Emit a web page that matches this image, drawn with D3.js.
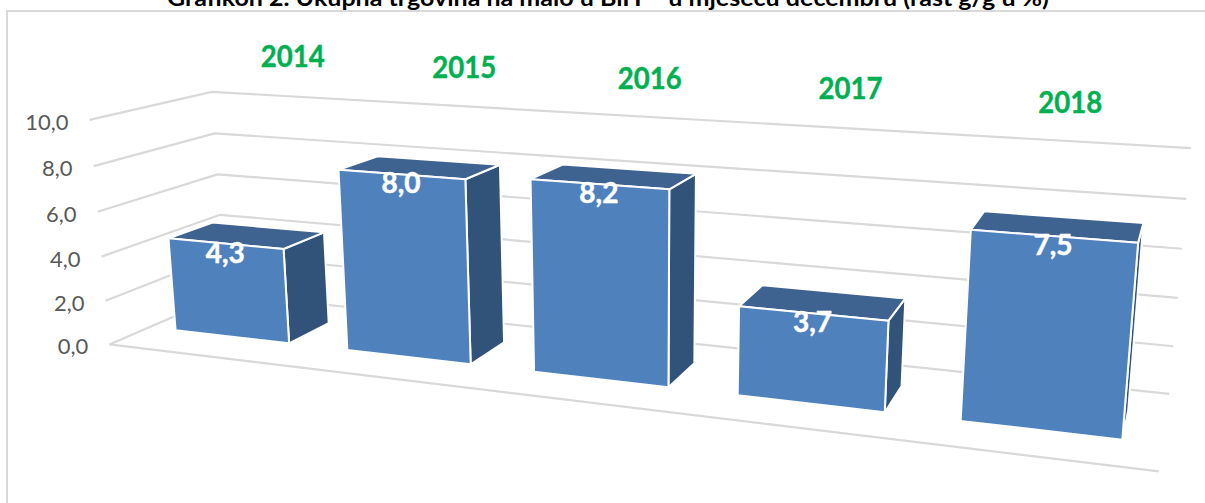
<!DOCTYPE html>
<html lang="bs">
<head>
    <meta charset="UTF-8">
    <title>Grafikon 2</title>
    <script src="https://d3js.org/d3.v7.min.js"></script>
    <style>
        html, body { margin: 0; background: #fff; overflow: hidden; }
        svg { display: block; }
        text { font-family: Lato, "Open Sans", sans-serif; }
    </style>
</head>
<body>
<script>
    const width = 1205
    const height = 503

    const years = ['2014', '2015', '2016', '2017', '2018']
    const values = [4.3, 8.0, 8.2, 3.7, 7.5]
    const yTicks = [0, 2, 4, 6, 8, 10]
    const title = 'Grafikon 2. Ukupna trgovina na malo u BiH – u mjesecu decembru (rast g/g u %)'

    const comma = d => d3.format('.1f')(d).replace('.', ',')

    // perspective camera, unit cube -> screen (x along years, y up, z into the wall)
    const cam = [
        [811.778225, -23.05977, 142.100387, 109.351139],
        [30.2855, -228.85887, -16.572999, 344.459286],
        [-0.205135, -0.03583, 0.114509, 1]
    ]
    function project(x, y, z) {
        const r = cam.map(c => c[0] * x + c[1] * y + c[2] * z + c[3])
        return [r[0] / r[2], r[1] / r[2]]
    }

    const xScale = d3.scaleBand().domain(years).range([0, 1]).paddingInner(0.33).paddingOuter(0.16)
    const yScale = d3.scaleLinear().domain([0, 10]).range([0, 1])
    const zFront = 0.32
    const zBack = 0.70
    // year captions float above the wall, hand placed in the original so not quite regular
    const captionX = d3.scaleOrdinal().domain(years).range([0.118, 0.32, 0.52, 0.71, 0.902])
    const captionZ = d3.scaleOrdinal().domain(years).range([0.88, 0.815, 0.72, 0.715, 0.625])

    const path = d3.line()
    const shape = pts => path(pts.map(p => project(p[0], p[1], p[2]))) + 'Z'

    const svg = d3.select('body').append('svg')
        .attr('width', width)
        .attr('height', height)

    // outer frame, open on the right and bottom
    svg.append('path')
        .attr('d', path([[7, height], [7, 11], [width, 11]]))
        .attr('fill', 'none')
        .attr('stroke', '#d9d9d9')
        .attr('stroke-width', 2)

    svg.append('text')
        .text(title)
        .attr('x', 167)
        .attr('y', 6)
        .attr('font-size', 22)
        .attr('font-weight', 700)
        .attr('textLength', 882)
        .attr('lengthAdjust', 'spacingAndGlyphs')
        .attr('fill', '#000')

    // gridlines on side wall and back wall
    svg.append('g').selectAll('path')
        .data(yTicks)
        .join('path')
        .attr('d', d => path([project(0, yScale(d), 0), project(0, yScale(d), 1), project(1, yScale(d), 1)]))
        .attr('fill', 'none')
        .attr('stroke', '#d9d9d9')
        .attr('stroke-width', 2.2)

    // front edge of the floor
    svg.append('path')
        .attr('d', path([project(0, 0, 0), project(1, 0, 0)]))
        .attr('stroke', '#d9d9d9')
        .attr('stroke-width', 2.2)

    svg.append('g').selectAll('text')
        .data(yTicks)
        .join('text')
        .text(comma)
        .attr('x', d => project(0, yScale(d), 0)[0] - 21)
        .attr('y', d => project(0, yScale(d), 0)[1] + 10)
        .attr('text-anchor', 'end')
        .attr('font-size', 22)
        .attr('fill', '#595959')

    const bars = svg.append('g').selectAll('g')
        .data(years)
        .join('g')

    function corners(year, i) {
        const x0 = xScale(year)
        const x1 = x0 + xScale.bandwidth()
        return {x0, x1, top: yScale(values[i])}
    }

    // right side
    bars.append('path')
        .attr('d', (d, i) => {
            const c = corners(d, i)
            return shape([[c.x1, 0, zFront], [c.x1, 0, zBack], [c.x1, c.top, zBack], [c.x1, c.top, zFront]])
        })
        .attr('fill', '#325379')
        .attr('stroke', '#fff')
        .attr('stroke-width', 2)
        .attr('stroke-linejoin', 'round')

    // top
    bars.append('path')
        .attr('d', (d, i) => {
            const c = corners(d, i)
            return shape([[c.x0, c.top, zFront], [c.x1, c.top, zFront], [c.x1, c.top, zBack], [c.x0, c.top, zBack]])
        })
        .attr('fill', '#3f6390')
        .attr('stroke', '#fff')
        .attr('stroke-width', 2)
        .attr('stroke-linejoin', 'round')

    // front
    bars.append('path')
        .attr('d', (d, i) => {
            const c = corners(d, i)
            return shape([[c.x0, 0, zFront], [c.x1, 0, zFront], [c.x1, c.top, zFront], [c.x0, c.top, zFront]])
        })
        .attr('fill', '#4f81bd')
        .attr('stroke', '#fff')
        .attr('stroke-width', 2)
        .attr('stroke-linejoin', 'round')

    bars.append('text')
        .text((d, i) => comma(values[i]))
        .attr('x', (d, i) => project(xScale(d) + xScale.bandwidth() / 2, yScale(values[i]), zFront)[0])
        .attr('y', (d, i) => project(xScale(d) + xScale.bandwidth() / 2, yScale(values[i]), zFront)[1] + 19)
        .attr('text-anchor', 'middle')
        .attr('font-size', 28)
        .attr('font-weight', 700)
        .attr('fill', '#fff')
        .attr('stroke', '#fff')
        .attr('stroke-width', 0.5)

    svg.append('g').selectAll('text')
        .data(years)
        .join('text')
        .text(d => d)
        .attr('x', d => project(captionX(d), yScale(12), captionZ(d))[0])
        .attr('y', d => project(captionX(d), yScale(12), captionZ(d))[1] + 10.5)
        .attr('text-anchor', 'middle')
        .attr('font-size', 30)
        .attr('font-weight', 700)
        .attr('textLength', 64)
        .attr('lengthAdjust', 'spacingAndGlyphs')
        .attr('fill', '#00b050')
        .attr('stroke', '#00b050')
        .attr('stroke-width', 0.4)
</script>
</body>
</html>
